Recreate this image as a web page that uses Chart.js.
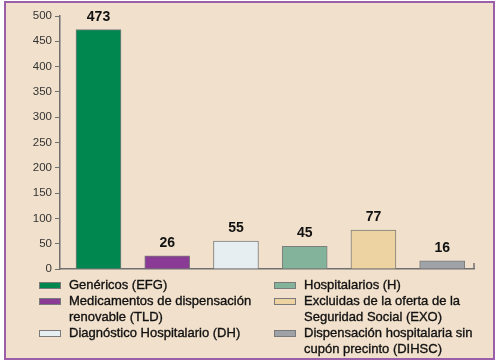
<!DOCTYPE html>
<html>
<head>
<meta charset="utf-8">
<script src="https://cdn.jsdelivr.net/npm/chart.js@4"></script>
<style>
  html, body { margin: 0; padding: 0; background: #fff; }
  #frame {
    position: absolute; left: 4px; top: 1px; width: 491px; height: 359px;
    box-sizing: border-box; border: 2px solid #9a5fa8; background: #f1e0cb;
  }
  #wrap { position: absolute; left: 0; top: 0; width: 498px; height: 364px; }
  .legcol { position: absolute; top: 277px; font: 13px "Liberation Sans", Arial, sans-serif; color: #111; line-height: 16px; -webkit-text-stroke: 0.35px #111; }
  .legitem { position: relative; padding-left: 30px; }
  .legitem .sw { position: absolute; left: 0; top: 5px; width: 22px; height: 7px; box-sizing: border-box; border: 1px solid #7a7a7a; }
</style>
</head>
<body>
<div id="frame"></div>
<div id="wrap"><canvas id="chart" width="498" height="364"></canvas></div>
<div class="legcol" id="legLeft" style="left:39px"></div>
<div class="legcol" id="legRight" style="left:274px"></div>
<script>
// categorías y valores
const categories = [
  ['Genéricos (EFG)'],
  ['Medicamentos de dispensación', 'renovable (TLD)'],
  ['Diagnóstico Hospitalario (DH)'],
  ['Hospitalarios (H)'],
  ['Excluidas de la oferta de la', 'Seguridad Social (EXO)'],
  ['Dispensación hospitalaria sin', 'cupón precinto (DIHSC)'],
];
const values = [473, 26, 55, 45, 77, 16];
const barColors = ['#00874f', '#8a3b96', '#e7eef1', '#83b49b', '#ecd3a1', '#9fa2a6'];
const yTicks = [0, 50, 100, 150, 200, 250, 300, 350, 400, 450, 500];

// leyenda en dos columnas
categories.forEach((lines, i) => {
  const col = document.getElementById(i < 3 ? 'legLeft' : 'legRight');
  const item = document.createElement('div');
  item.className = 'legitem';
  const sw = document.createElement('span');
  sw.className = 'sw';
  sw.style.background = barColors[i];
  item.appendChild(sw);
  lines.forEach(l => {
    const d = document.createElement('div');
    d.textContent = l;
    item.appendChild(d);
  });
  col.appendChild(item);
});

// etiquetas de valor sobre cada barra + marca final del eje x
const valueLabels = {
  id: 'valueLabels',
  afterDatasetsDraw(chart) {
    const ctx = chart.ctx;
    const meta = chart.getDatasetMeta(0);
    ctx.save();
    ctx.font = 'bold 14px "Liberation Sans", Arial, sans-serif';
    ctx.fillStyle = '#111';
    ctx.textAlign = 'center';
    ctx.textBaseline = 'alphabetic';
    meta.data.forEach((bar, i) => {
      ctx.fillText(String(values[i]), bar.x, bar.y - 9);
    });
    const a = chart.chartArea;
    ctx.strokeStyle = '#707070';
    ctx.lineWidth = 1.5;
    ctx.beginPath();
    ctx.moveTo(a.right, a.bottom);
    ctx.lineTo(a.right, a.bottom - 6);
    ctx.stroke();
    ctx.restore();
  },
};

new Chart(document.getElementById('chart'), {
  type: 'bar',
  data: {
    datasets: [{
      data: values.map((v, i) => ({ x: i, y: v })),
      backgroundColor: barColors,
      borderColor: '#7d7d7d',
      borderWidth: 1,
      barThickness: 45,
    }],
  },
  options: {
    responsive: false,
    animation: false,
    layout: { padding: { left: 0, right: 24, top: 16, bottom: 95 } },
    scales: {
      x: {
        type: 'linear',
        offset: false,
        min: -0.56,
        max: 5.463,
        afterFit: s => { s.height = 0; },
        ticks: { display: false },
        grid: { display: false },
        border: { display: true, color: '#707070', width: 1.5 },
      },
      y: {
        min: 0,
        max: 500,
        afterFit: s => { s.width = 60; },
        afterBuildTicks: s => { s.ticks = yTicks.map(v => ({ value: v })); },
        ticks: {
          padding: 3,
          color: '#333',
          font: { family: '"Liberation Sans", Arial, sans-serif', size: 11.5 },
        },
        grid: { drawOnChartArea: false, drawTicks: true, tickLength: 5, color: '#707070', lineWidth: 1 },
        border: { display: true, color: '#707070', width: 1.5 },
      },
    },
    plugins: {
      legend: { display: false },
      tooltip: { enabled: false },
    },
  },
  plugins: [valueLabels],
});
</script>
</body>
</html>
